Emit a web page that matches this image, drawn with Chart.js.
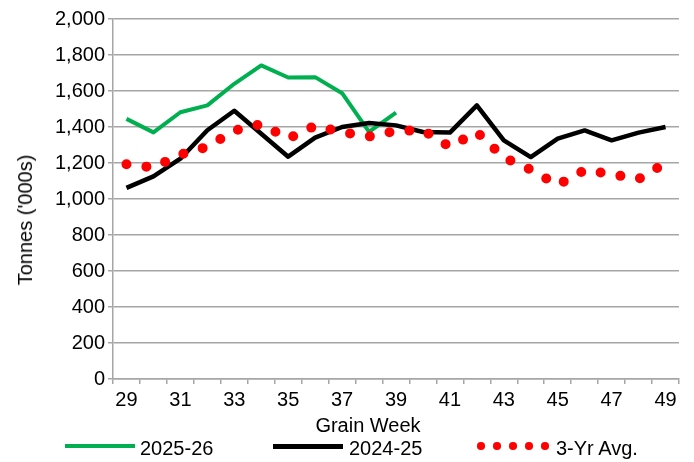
<!DOCTYPE html>
<html><head><meta charset="utf-8">
<script src="https://cdn.jsdelivr.net/npm/chart.js@4.4.1/dist/chart.umd.min.js"></script>
<style>
html,body{margin:0;padding:0;background:#fff;}
#wrap{position:relative;width:694px;height:462px;font-family:'Liberation Sans',Arial,sans-serif;color:#000;overflow:hidden;}
canvas{position:absolute;left:0;top:0;}
.t{position:absolute;font-size:20px;line-height:20px;white-space:nowrap;}
.dot{position:absolute;width:7.5px;height:7.5px;border-radius:50%;background:#ff0000;}
.ln{position:absolute;height:4px;width:70px;}
</style></head><body>
<div id="wrap">
<canvas id="c" width="694" height="462"></canvas>
<div class="t" style="left:25px;top:220px;transform:translate(-50%,-50%) rotate(-90deg);">Tonnes ('000s)</div>
<div class="t" style="left:368px;top:415px;transform:translateX(-50%);">Grain Week</div>
<div id="legend"></div>
</div>
<script>
const weeks = ['29','30','31','32','33','34','35','36','37','38','39','40','41','42','43','44','45','46','47','48','49'];
const s2025_26 = [1445,1370,1482,1520,1640,1742,1675,1677,1588,1373,1480,null,null,null,null,null,null,null,null,null,null];
const s2024_25 = [1062,1126,1224,1382,1490,1363,1235,1341,1400,1422,1409,1372,1369,1520,1326,1233,1335,1381,1326,1369,1400];
const avg3yr  = [1193,1175,1247,1290,1380,1416,1335,1407,1371,1347,1378,1382,1290,1372,1230,1163,1078,1161,1137,1111,1200];
const yTickValues = [0,200,400,600,800,1000,1200,1400,1600,1800,2000];
const seriesNames = ['2025-26','2024-25','3-Yr Avg.'];
const seriesColors = ['#00b050','#000000','#ff0000'];

const gridColor = '#a6a6a6';
const font = {family:"'Liberation Sans', Arial, sans-serif", size:20};

new Chart(document.getElementById('c'), {
  type:'line',
  data:{
    labels:weeks,
    datasets:[
      {label:seriesNames[0], data:s2025_26, borderColor:seriesColors[0], borderWidth:4, pointRadius:0, tension:0, fill:false, borderJoinStyle:'round', order:2},
      {label:seriesNames[1], data:s2024_25, borderColor:seriesColors[1], borderWidth:4.5, pointRadius:0, tension:0, fill:false, borderJoinStyle:'round', order:1},
      {label:seriesNames[2], data:avg3yr, borderColor:seriesColors[2], borderWidth:10, borderDash:[0,20.05], borderCapStyle:'round', borderJoinStyle:'round', pointRadius:0, tension:0, fill:false, order:0}
    ]
  },
  options:{
    responsive:false, animation:false, devicePixelRatio:1,
    layout:{padding:{top:19,right:15,left:0,bottom:0}},
    plugins:{legend:{display:false}, tooltip:{enabled:false}},
    scales:{
      x:{
        type:'category', offset:true,
        grid:{offset:true, drawOnChartArea:false, drawTicks:true, tickLength:5, color:gridColor, lineWidth:1.5},
        border:{color:gridColor, width:1.5},
        ticks:{autoSkip:false, maxRotation:0, minRotation:0, color:'#000', font:font, padding:4,
          callback:(v,i)=> (i%2===0 ? weeks[i] : '')},
        afterFit:(s)=>{s.height=83;}
      },
      y:{
        min:0, max:2000,
        afterBuildTicks:(s)=>{s.ticks = yTickValues.map(v=>({value:v}));},
        grid:{color:gridColor, lineWidth:1.5, tickLength:5, drawTicks:true},
        border:{color:gridColor, width:1.5},
        ticks:{color:'#000', font:font, padding:3, callback:(v)=>Number(v).toLocaleString('en-US')},
        afterFit:(s)=>{s.width=113;}
      }
    }
  }
});

// legend (HTML)
const lg = document.getElementById('legend');
function add(html){ lg.insertAdjacentHTML('beforeend', html); }
add(`<div class="ln" style="left:65px;top:444px;background:${seriesColors[0]}"></div>`);
add(`<div class="t" style="left:140px;top:438px;">${seriesNames[0]}</div>`);
add(`<div class="ln" style="left:273px;top:443.5px;height:5px;background:${seriesColors[1]}"></div>`);
add(`<div class="t" style="left:349px;top:438px;">${seriesNames[1]}</div>`);
[481,497,513,529,545].forEach(x=>add(`<div class="dot" style="left:${x-3.75}px;top:${446-3.75}px"></div>`));
add(`<div class="t" style="left:556px;top:438px;">${seriesNames[2]}</div>`);
</script>
</body></html>
